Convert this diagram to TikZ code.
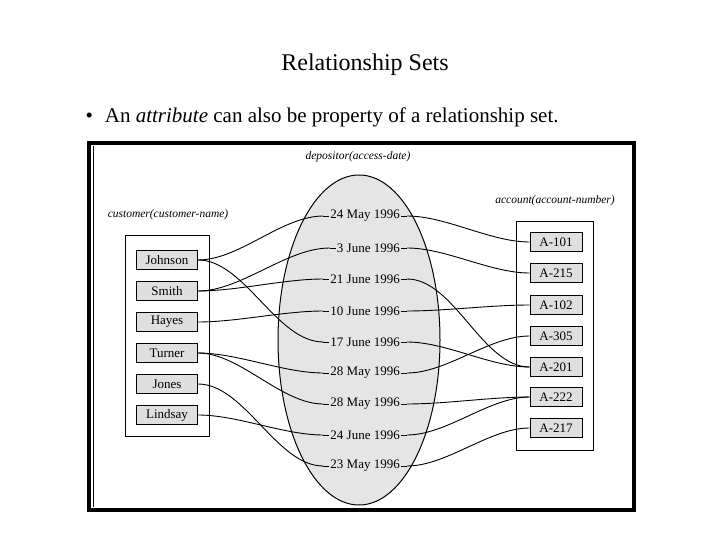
\documentclass[tikz,border=0pt]{standalone}
\usepackage{fontspec}
\setmainfont{Liberation Serif}
\usetikzlibrary{shapes.geometric}
\begin{document}
\begin{tikzpicture}[x=1pt,y=-1pt,
  item/.style={draw,line width=1pt,fill=gray!25,minimum width=61pt,minimum height=19pt,inner sep=0pt,font=\fontsize{13}{13}\selectfont},
  acc/.style={item,minimum width=52pt},
  date/.style={inner sep=1pt,font=\fontsize{13}{13}\selectfont},
  lnk/.style={line width=0.9pt,out=0,in=180,looseness=0.8},
  captext/.style={font=\itshape\fontsize{11.5}{12}\selectfont}]
\useasboundingbox (0,0) rectangle (720,540);
\node (title) at (365,65) {\fontsize{24}{24}\selectfont Relationship Sets};
\node[anchor=west] (bul) at (82,117) {\fontsize{21}{21}\selectfont •\hspace{12pt}An \textit{attribute} can also be property of a relationship set.};
\draw[line width=4pt] (89,143) rectangle (634,510);
\draw[line width=0.8pt] (93,146) -- (93,507);
\node[draw,fill=gray!20,line width=1pt,ellipse,minimum width=162pt,minimum height=330pt,inner sep=0pt] (ell) at (359,340) {};
\node[captext] (dep) at (358,157) {depositor(access-date)};
\node[captext] (cus) at (168,215) {customer(customer-name)};
\node[captext] (acl) at (555,201) {account(account-number)};
\node[draw,minimum width=84pt,minimum height=201pt,inner sep=0pt] (cbox) at (167,336) {};
\node[draw,minimum width=77pt,minimum height=229pt,inner sep=0pt] (abox) at (555,336) {};
\foreach \n/\t/\y in {c1/Johnson/260,c2/Smith/291,c3/Hayes/322,c4/Turner/353,c5/Jones/384,c6/Lindsay/415}
  \node[item] (\n) at (167,\y) {\t};
\foreach \n/\t/\y in {a1/A-101/242,a2/A-215/273,a3/A-102/305,a4/A-305/336,a5/A-201/367,a6/A-222/397,a7/A-217/428}
  \node[acc] (\n) at (556,\y) {\t};
\foreach \n/\t/\y in {d1/24 May 1996/216,d2/3 June 1996/248,d3/21 June 1996/279,d4/10 June 1996/311,d5/17 June 1996/342,d6/28 May 1996/373,d7/28 May 1996/404,d8/24 June 1996/435,d9/23 May 1996/466}
  \node[date,anchor=east] (\n) at (401,\y) {\t};
\foreach \n in {d1,d2,d3,d4,d5,d6,d7,d8,d9}{
  \coordinate (\n l) at ([xshift=-6pt]\n.west);
  \coordinate (\n r) at ([xshift=6pt]\n.east);
  \draw[line width=0.9pt] (\n l) -- (\n.west) (\n.east) -- (\n r);}
\foreach \c/\d in {c1/d1,c1/d5,c2/d2,c2/d3,c3/d4,c4/d6,c4/d7,c5/d9,c6/d8}
  \draw[lnk] (\c.east) to (\d l);
\foreach \d/\a in {d1/a1,d2/a2,d3/a5,d4/a3,d5/a5,d6/a4,d7/a6,d8/a6,d9/a7}
  \draw[lnk] (\d r) to (\a.west);
\end{tikzpicture}
\end{document}
